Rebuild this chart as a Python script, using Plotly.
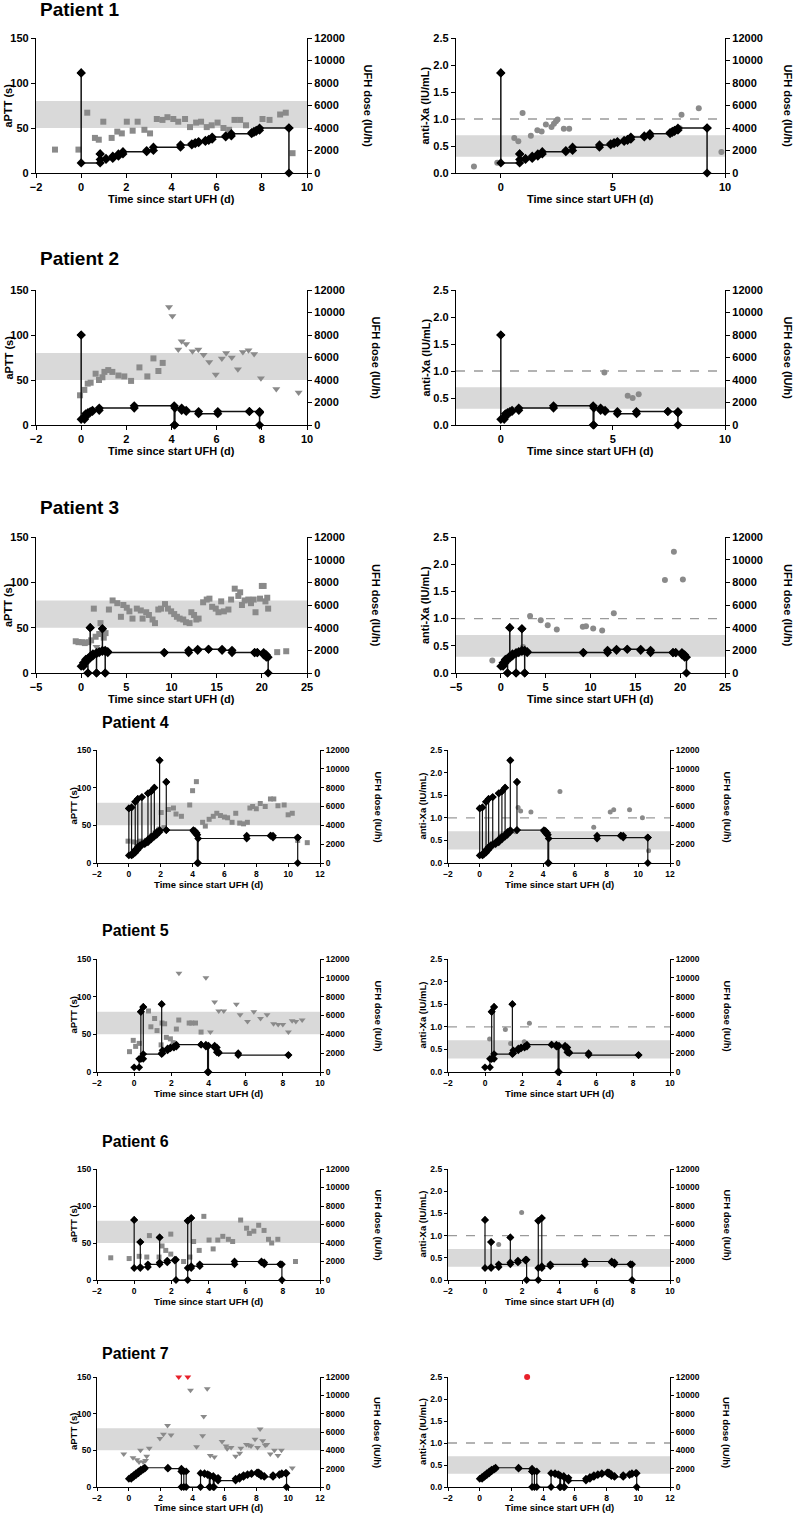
import plotly.graph_objects as go

W, H = 800, 1515

# ------------------------------------------------------------------ DATA
# Patient 1
p1_dose_t = [0, 0, 0.84, 0.84, 1.1, 1.4, 1.65, 1.85, 2.9, 3.2, 4.4, 4.9, 5.05, 5.2, 5.5, 5.65, 5.8, 6.4, 6.65, 7.55, 7.65, 7.75, 7.9, 9.2, 9.2]
p1_dose_v = [8900, 900, 1700, 1200, 1300, 1500, 1700, 1900, 2000, 2300, 2500, 2600, 2700, 2800, 2900, 3000, 3200, 3300, 3500, 3600, 3700, 3800, 4000, 4000, 0]
p1_sq_t = [-1.16, -0.12, 0.27, 0.61, 0.78, 0.98, 1.35, 1.6, 1.8, 2.02, 2.28, 2.5, 2.8, 3.05, 3.35, 3.6, 3.82, 4.08, 4.3, 4.6, 4.82, 5.09, 5.31, 5.56, 5.78, 6.04, 6.3, 6.55, 6.79, 7.04, 7.3, 8.03, 8.34, 8.81, 9.06, 9.36]
p1_sq_v = [26, 26, 67, 39, 37, 57, 39, 46, 44, 57, 47, 57, 48, 44, 60, 59, 62, 60, 57, 60, 51, 56, 57, 51, 53, 56, 50, 48, 59, 59, 53, 60, 59, 65, 67, 22]
p1_tri_t, p1_tri_v = [], []
p1_axa_t = [-1.2, -0.16, 0.6, 0.78, 0.97, 1.34, 1.63, 1.82, 2.01, 2.26, 2.37, 2.46, 2.53, 2.81, 3.05, 7.9, 7.98, 8.06, 8.83, 9.84]
p1_axa_v = [0.12, 0.19, 0.65, 0.59, 1.11, 0.69, 0.79, 0.77, 0.9, 0.85, 0.91, 0.96, 0.99, 0.82, 0.82, 0.82, 0.83, 1.08, 1.2, 0.39]

# Patient 2
p2_dose_t = [0, 0, 0.15, 0.2, 0.3, 0.4, 0.5, 0.8, 2.35, 4.12, 4.15, 4.45, 4.65, 5.2, 6.05, 7.45, 7.9, 7.9]
p2_dose_v = [8000, 500, 700, 1000, 1100, 1200, 1300, 1500, 1700, 0, 1500, 1300, 1200, 1000, 1200, 1200, 1100, 0]
p2_sq_t = [-0.05, 0.14, 0.29, 0.42, 0.64, 0.79, 0.94, 1.03, 1.2, 1.38, 1.65, 1.91, 2.21, 2.58, 2.93, 3.2, 3.42, 3.61]
p2_sq_v = [33, 39, 46, 47, 57, 50, 53, 59, 61, 59, 55, 54, 49, 64, 54, 74, 60, 69]
p2_tri_t = [3.89, 4.04, 4.3, 4.45, 4.65, 4.93, 5.19, 5.42, 5.67, 5.96, 6.23, 6.42, 6.67, 6.94, 7.16, 7.41, 7.66, 7.96, 8.64, 9.63]
p2_tri_v = [131, 121, 84, 93, 90, 82, 84, 78, 70, 56, 74, 80, 75, 62, 81, 83, 79, 52, 40, 36]
p2_axa_t = [4.62, 5.66, 5.88, 6.15]
p2_axa_v = [0.97, 0.54, 0.50, 0.57]

# Patient 3
p3_dose_t = [0, 0.25, 0.5, 0.75, 0.75, 1.0, 1.0, 1.3, 1.7, 1.7, 2.0, 2.35, 2.35, 2.66, 2.66, 2.94, 9.2, 11.9, 12.9, 14.1, 15.6, 16.7, 19.2, 19.5, 20.2, 20.5, 20.7]
p3_dose_v = [600, 900, 1200, 0, 1300, 4000, 1500, 1700, 0, 1800, 1900, 3900, 2000, 0, 1900, 1800, 1800, 2000, 2100, 2100, 2000, 1800, 1800, 1800, 1600, 1400, 0]
p3_sq_t = [-0.6, -0.3, 0.1, 0.4, 0.8, 1.1, 1.4, 1.6, 2.0, 2.14, 2.5, 2.7, 3.07, 3.48, 4.0, 4.4, 4.67, 5.05, 5.34, 5.68, 6.16, 6.6, 6.8, 7.2, 7.5, 7.9, 8.17, 8.54, 8.84, 9.28, 9.6, 9.96, 10.3, 10.6, 10.9, 11.3, 11.6, 12.0, 12.2, 12.5, 12.75, 13.0, 13.5, 13.9, 14.2, 14.5, 14.9, 15.2, 15.5, 15.8, 16.3, 16.6, 17.0, 17.4, 17.6, 17.8, 18.1, 18.5, 18.8, 19.1, 19.3, 19.8, 20.0, 20.2, 20.4, 20.6, 20.7, 21.7, 22.7]
p3_sq_v = [35, 34, 34, 33, 34, 36, 71, 40, 43, 55, 39, 44, 70, 80, 77, 62, 75, 72, 68, 60, 71, 69, 60, 67, 64, 59, 55, 70, 71, 76, 71, 68, 65, 62, 60, 59, 56, 55, 67, 64, 59, 60, 78, 81, 82, 73, 71, 67, 79, 68, 70, 81, 93, 85, 89, 75, 80, 81, 77, 81, 67, 82, 96, 96, 79, 83, 71, 23, 24]
p3_tri_t = [1.7]
p3_tri_v = [29]
p3_axa_t = [-0.95, 2.48, 3.26, 4.45, 5.23, 6.24, 9.14, 9.5, 10.3, 11.3, 12.6, 18.3, 19.3, 20.3]
p3_axa_v = [0.23, 0.48, 1.05, 0.97, 0.88, 0.80, 0.85, 0.86, 0.82, 0.78, 1.10, 1.71, 2.23, 1.72]

# Patient 4
p4_dose_t = [0, 0, 0.17, 0.17, 0.25, 0.4, 0.4, 0.56, 0.56, 0.7, 0.82, 0.82, 1.0, 1.2, 1.2, 1.4, 1.4, 1.6, 1.6, 1.75, 1.93, 1.93, 2.35, 2.35, 4.05, 4.15, 4.25, 4.3, 4.35, 7.4, 8.9, 9.05, 10.6, 10.6]
p4_dose_v = [5800, 800, 5900, 900, 1100, 6500, 1400, 6800, 1700, 1900, 7000, 2000, 2200, 7400, 2500, 7600, 2800, 8000, 3000, 3300, 10900, 3500, 8600, 3500, 3400, 3200, 3000, 0, 2600, 2900, 2900, 2700, 2700, 0]
p4_sq_t = [-0.05, 0.3, 0.5, 0.7, 0.9, 1.1, 1.3, 1.45, 1.65, 1.9, 2.03, 2.2, 2.48, 2.8, 2.96, 3.3, 3.82, 4.0, 4.24, 4.63, 4.8, 5.04, 5.3, 5.52, 5.75, 6.0, 6.2, 6.48, 6.71, 6.96, 7.2, 7.44, 7.6, 7.77, 8.0, 8.25, 8.56, 8.89, 9.1, 9.36, 9.75, 10.0, 10.26, 10.6, 11.2]
p4_sq_v = [29, 28, 27, 29, 28, 30, 33, 36, 40, 45, 67, 47, 71, 73, 65, 62, 77, 96, 108, 54, 49, 58, 62, 66, 63, 61, 60, 54, 66, 53, 52, 54, 73, 75, 72, 79, 75, 85, 85, 76, 77, 64, 66, 30, 27]
p4_tri_t, p4_tri_v = [], []
p4_axa_t = [1.3, 1.6, 2.26, 2.42, 2.58, 3.23, 5.06, 7.19, 8.23, 8.45, 9.45, 10.26, 10.65]
p4_axa_v = [0.60, 0.65, 0.69, 1.23, 1.15, 1.13, 1.58, 0.79, 1.13, 1.18, 1.18, 1.00, 0.27]

# Patient 5
p5_dose_t = [0, 0.27, 0.36, 0.36, 0.49, 0.49, 1.48, 1.48, 1.53, 1.8, 1.95, 2.14, 2.27, 3.6, 3.86, 3.95, 4.0, 4.33, 4.45, 4.55, 5.6, 8.3]
p5_dose_v = [500, 1400, 6400, 1400, 6900, 1900, 7200, 2000, 2300, 2500, 2600, 2700, 2900, 2900, 2700, 0, 2800, 2600, 2100, 2000, 1800, 1800]
p5_sq_t = [-0.25, -0.05, 0.08, 0.27, 0.77, 0.9, 1.1, 1.23, 1.45, 1.5, 1.64, 1.73, 1.95, 2.1, 2.27, 2.4, 2.96, 3.1, 3.3, 3.6]
p5_sq_v = [27, 42, 34, 38, 81, 60, 71, 55, 36, 65, 64, 46, 44, 39, 57, 69, 65, 65, 65, 53]
p5_tri_t = [2.41, 3.86, 4.1, 4.33, 4.55, 4.82, 5.5, 5.7, 6.1, 6.44, 6.8, 7.15, 7.5, 7.75, 8.0, 8.3, 8.5, 8.7, 9.04]
p5_tri_v = [131, 125, 53, 93, 81, 81, 90, 76, 67, 80, 71, 76, 64, 63, 63, 53, 68, 67, 69]
p5_axa_t = [0.25, 1.1, 1.38, 2.12, 2.4]
p5_axa_v = [0.73, 0.94, 0.63, 0.67, 1.08]

# Patient 6
p6_dose_t = [0, 0, 0.33, 0.33, 0.74, 1.37, 1.37, 1.78, 2.19, 2.25, 2.88, 2.88, 3.07, 3.07, 3.53, 5.4, 6.85, 7.0, 7.86, 7.95]
p6_dose_v = [6500, 1300, 4100, 1400, 1700, 4600, 1900, 2100, 2200, 0, 6400, 1300, 6700, 1500, 1700, 2000, 1900, 1700, 1700, 0]
p6_sq_t = [-1.26, -0.27, 0.27, 0.68, 0.82, 1.34, 1.5, 1.7, 1.97, 1.97, 2.66, 3.0, 3.2, 3.5, 3.75, 4.03, 4.25, 4.5, 4.77, 5.07, 5.3, 5.73, 6.05, 6.2, 6.44, 6.7, 6.99, 7.23, 7.4, 7.73, 8.68]
p6_sq_v = [30, 29, 32, 31, 60, 31, 46, 40, 62, 35, 25, 31, 52, 40, 86, 54, 42, 54, 59, 55, 52, 81, 70, 63, 66, 74, 67, 55, 50, 55, 25]
p6_tri_t, p6_tri_v = [], []
p6_axa_t = [0.74, 1.98]
p6_axa_v = [0.80, 1.52]

# Patient 7
p7_dose_t = [0, 0.15, 0.3, 0.45, 0.6, 0.75, 0.9, 1.0, 2.45, 3.3, 3.3, 3.45, 3.6, 4.5, 4.75, 4.95, 5.05, 5.1, 5.3, 5.35, 5.6, 6.7, 6.95, 7.2, 7.45, 7.7, 8.05, 8.15, 8.3, 8.5, 9.05, 9.45, 9.6, 9.85, 9.9]
p7_dose_v = [900, 1100, 1300, 1500, 1700, 1900, 2000, 2100, 2000, 1700, 0, 1700, 0, 1500, 1400, 1300, 0, 1200, 0, 1000, 700, 900, 1100, 1300, 1400, 1500, 1600, 1400, 1200, 1100, 1300, 1400, 1500, 1500, 0]
p7_sq_t, p7_sq_v = [], []
p7_tri_t = [-0.32, 0.26, 0.51, 0.64, 0.73, 0.9, 1.05, 1.12, 1.28, 1.95, 2.17, 2.43, 2.65, 3.87, 4.25, 4.63, 4.7, 4.92, 5.11, 5.37, 5.85, 6.1, 6.17, 6.42, 6.7, 6.96, 7.03, 7.38, 7.54, 7.67, 7.92, 8.08, 8.24, 8.4, 8.56, 8.66, 8.88, 9.14, 9.36, 9.58, 10.26]
p7_tri_v = [45, 40, 37, 34, 50, 34, 36, 42, 53, 66, 72, 84, 71, 132, 55, 70, 96, 134, 43, 41, 62, 56, 52, 54, 42, 46, 53, 58, 57, 56, 65, 54, 79, 63, 57, 58, 45, 50, 43, 50, 26]
p7_axa_t, p7_axa_v = [], []
p7_red_tri_t = [3.13, 3.7]
p7_red_tri_v = [150, 150]
p7_red_axa_t = [2.99]
p7_red_axa_v = [2.5]

patients = ["Patient 1", "Patient 2", "Patient 3", "Patient 4", "Patient 5", "Patient 6", "Patient 7"]
dose_t = [p1_dose_t, p2_dose_t, p3_dose_t, p4_dose_t, p5_dose_t, p6_dose_t, p7_dose_t]
dose_v = [p1_dose_v, p2_dose_v, p3_dose_v, p4_dose_v, p5_dose_v, p6_dose_v, p7_dose_v]
sq_t = [p1_sq_t, p2_sq_t, p3_sq_t, p4_sq_t, p5_sq_t, p6_sq_t, p7_sq_t]
sq_v = [p1_sq_v, p2_sq_v, p3_sq_v, p4_sq_v, p5_sq_v, p6_sq_v, p7_sq_v]
tri_t = [p1_tri_t, p2_tri_t, p3_tri_t, p4_tri_t, p5_tri_t, p6_tri_t, p7_tri_t]
tri_v = [p1_tri_v, p2_tri_v, p3_tri_v, p4_tri_v, p5_tri_v, p6_tri_v, p7_tri_v]
axa_t = [p1_axa_t, p2_axa_t, p3_axa_t, p4_axa_t, p5_axa_t, p6_axa_t, p7_axa_t]
axa_v = [p1_axa_v, p2_axa_v, p3_axa_v, p4_axa_v, p5_axa_v, p6_axa_v, p7_axa_v]

x_ranges = [(-2, 10), (-2, 10), (-5, 25), (-2, 12), (-2, 10), (-2, 10), (-2, 12)]
x_dtick_left = [2, 2, 5, 2, 2, 2, 2]
x_dtick_right = [5, 5, 5, 2, 2, 2, 2]

# ------------------------------------------------------------------ LAYOUT (pixels)
big = dict(L=(36, 307), R=(456, 725), tick=11, atitle=11, title=19, tx=38, ticklen=4,
           sq=6, tri=7, circ=6, dia=7, lw=1.5, ytl=8, ytr_l=376, ytl_r=425, ytr_r=788, xoff=26)
small = dict(L=(97, 320), R=(448, 670), tick=8.5, atitle=9.5, title=16, tx=100, ticklen=3,
             sq=5, tri=6, circ=5, dia=6, lw=1.2, ytl=73, ytr_l=378, ytl_r=422, ytr_r=727, xoff=21)
rows = [
    dict(big, top=38, bot=173, ty=9, ytr_l=367, ytr_r=787),
    dict(big, top=290, bot=425, ty=258),
    dict(big, top=537, bot=673, ty=508),
    dict(small, top=750, bot=863, ty=722),
    dict(small, top=959, bot=1072, ty=931),
    dict(small, top=1169, bot=1280, ty=1141),
    dict(small, top=1377, bot=1487, ty=1353, xoff=20),
]

FONT = "Liberation Sans, Arial, sans-serif"
GRAY = "#8a8a8a"
BAND = "#d9d9d9"
RED = "#e8202a"

fig = go.Figure()
annotations = []
shapes = []


def ax_names(k):
    xn = "xaxis" if k == 1 else f"xaxis{k}"
    yn = "yaxis" if k == 1 else f"yaxis{k}"
    xr = "x" if k == 1 else f"x{k}"
    yr = "y" if k == 1 else f"y{k}"
    return xn, yn, xr, yr


def tickfont(r):
    return dict(family=FONT, size=r["tick"], color="black", weight="bold")


def afont(r, size=None):
    return dict(family=FONT, size=size or r["atitle"], color="black", weight="bold")


def common_axis(r):
    return dict(showline=True, linecolor="black", linewidth=1.3, ticks="outside",
                ticklen=r["ticklen"], tickwidth=1.3, tickcolor="black", showgrid=False,
                zeroline=False, tickfont=tickfont(r), fixedrange=True, automargin=False)


layout_axes = {}
for i in range(7):
    r = rows[i]
    for side in range(2):  # 0 = aPTT panel, 1 = anti-Xa panel
        k = 2 * i + side + 1
        k2 = k + 14
        xn, yn, xr, yr = ax_names(k)
        yn2, yr2 = f"yaxis{k2}", f"y{k2}"
        px0, px1 = r["L"] if side == 0 else r["R"]
        layout_axes[xn] = dict(common_axis(r), domain=[px0 / W, px1 / W], anchor=yr,
                               range=list(x_ranges[i]), tick0=0,
                               dtick=x_dtick_left[i] if side == 0 else x_dtick_right[i])
        ydom = [1 - r["bot"] / H, 1 - r["top"] / H]
        if side == 0:
            layout_axes[yn] = dict(common_axis(r), domain=ydom, anchor=xr, range=[0, 150], dtick=50)
        else:
            layout_axes[yn] = dict(common_axis(r), domain=ydom, anchor=xr, range=[0, 2.5],
                                   dtick=0.5, tickformat=".1f")
        layout_axes[yn2] = dict(common_axis(r), overlaying=yr, anchor=xr, side="right",
                                range=[0, 12000], dtick=2000, tickformat="d")

        # therapeutic band
        if side == 0:
            b0, b1 = 50, 80
        else:
            b0, b1 = 0.3, 0.7
        shapes.append(dict(type="rect", xref=f"{xr} domain", yref=yr, x0=0, x1=1, y0=b0, y1=b1,
                           fillcolor=BAND, line=dict(width=0), layer="below"))
        if side == 1:
            shapes.append(dict(type="line", xref=f"{xr} domain", yref=yr, x0=0, x1=1, y0=1.0, y1=1.0,
                               line=dict(color="#9a9a9a", width=1.3, dash="dash"), layer="below"))

        # measured values
        if side == 0:
            if sq_t[i]:
                fig.add_trace(go.Scatter(x=sq_t[i], y=sq_v[i], mode="markers", xaxis=xr, yaxis=yr,
                                         marker=dict(symbol="square", size=r["sq"], color=GRAY),
                                         cliponaxis=False, showlegend=False))
            if tri_t[i]:
                fig.add_trace(go.Scatter(x=tri_t[i], y=tri_v[i], mode="markers", xaxis=xr, yaxis=yr,
                                         marker=dict(symbol="triangle-down", size=r["tri"], color=GRAY),
                                         cliponaxis=False, showlegend=False))
            if i == 6:
                fig.add_trace(go.Scatter(x=p7_red_tri_t, y=p7_red_tri_v, mode="markers", xaxis=xr, yaxis=yr,
                                         marker=dict(symbol="triangle-down", size=r["tri"], color=RED),
                                         cliponaxis=False, showlegend=False))
        else:
            if axa_t[i]:
                fig.add_trace(go.Scatter(x=axa_t[i], y=axa_v[i], mode="markers", xaxis=xr, yaxis=yr,
                                         marker=dict(symbol="circle", size=r["circ"], color=GRAY),
                                         cliponaxis=False, showlegend=False))
            if i == 6:
                fig.add_trace(go.Scatter(x=p7_red_axa_t, y=p7_red_axa_v, mode="markers", xaxis=xr, yaxis=yr,
                                         marker=dict(symbol="circle", size=r["circ"] + 1, color=RED),
                                         cliponaxis=False, showlegend=False))

        # UFH dose (step line on right axis)
        fig.add_trace(go.Scatter(x=dose_t[i], y=dose_v[i], mode="lines+markers", xaxis=xr, yaxis=yr2,
                                 line=dict(color="#111111", width=r["lw"], shape="hv"),
                                 marker=dict(symbol="diamond", size=r["dia"], color="black"),
                                 cliponaxis=False, showlegend=False))
        fig.add_trace(go.Scatter(x=dose_t[i][1:], y=dose_v[i][:-1], mode="markers", xaxis=xr, yaxis=yr2,
                                 marker=dict(symbol="diamond", size=r["dia"], color="black"),
                                 cliponaxis=False, showlegend=False))

        # axis titles
        ymid = 1 - (r["top"] + r["bot"]) / 2 / H
        left_title = "aPTT (s)" if side == 0 else "anti-Xa (IU/mL)"
        lx = r["ytl"] if side == 0 else r["ytl_r"]
        rx = r["ytr_l"] if side == 0 else r["ytr_r"]
        annotations.append(dict(text=left_title, x=lx / W, y=ymid, xref="paper", yref="paper",
                                textangle=-90, showarrow=False, xanchor="center", yanchor="middle",
                                font=afont(r)))
        annotations.append(dict(text="UFH dose (IU/h)", x=rx / W, y=ymid, xref="paper", yref="paper",
                                textangle=90, showarrow=False, xanchor="center", yanchor="middle",
                                font=afont(r)))
        annotations.append(dict(text="Time since start UFH (d)", x=(px0 + px1) / 2 / W,
                                y=1 - (r["bot"] + r["xoff"]) / H, xref="paper", yref="paper",
                                showarrow=False, xanchor="center", yanchor="middle", font=afont(r)))

    annotations.append(dict(text=patients[i], x=r["tx"] / W, y=1 - r["ty"] / H, xref="paper", yref="paper",
                            showarrow=False, xanchor="left", yanchor="middle",
                            font=afont(r, r["title"])))

fig.update_layout(**layout_axes)
fig.update_layout(width=W, height=H, margin=dict(l=0, r=0, t=0, b=0, pad=0, autoexpand=False),
                  paper_bgcolor="white", plot_bgcolor="white",
                  showlegend=False, annotations=annotations, shapes=shapes)

fig.write_html("out.html", config=dict(displayModeBar=False),
               post_script="document.body.style.margin='0px';document.body.style.overflow='hidden';")
